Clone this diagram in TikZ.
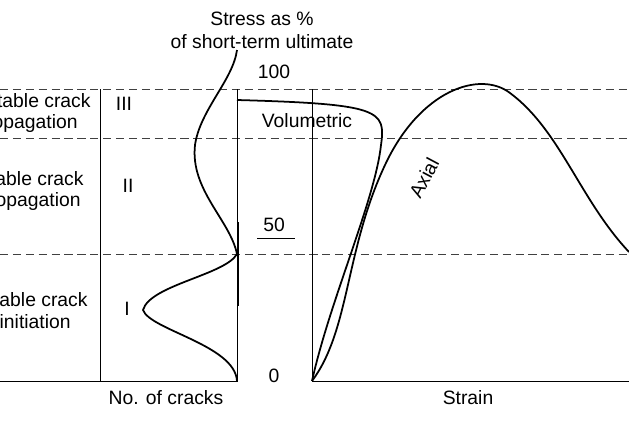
\documentclass[tikz,border=0pt]{standalone}
\usepackage{fontspec}
\setmainfont{Liberation Sans}
\begin{document}
\begin{tikzpicture}[x=0.03cm, y=-0.03cm,
		every node/.style={font=\fontsize{16.5}{18}\selectfont, inner sep=1pt},
		axisline/.style={line width=0.7pt},
		level/.style={dashed, dash pattern=on 7pt off 4pt, line width=0.8pt, black!75},
		curve/.style={line width=1.5pt, line join=round},
		]
		\useasboundingbox (0,0) rectangle (629,420);
		\clip (0,0) rectangle (629,420);
		% stress levels
		\draw[level] (0,89) -- (629,89);
		\draw[level] (0,138) -- (629,138);
		\draw[level] (0,254) -- (629,254);
		% axes
		\coordinate (o) at (312,381);
		\draw[axisline] (100,89) -- (100,381) -- (0,381);
		\draw[axisline] (100,381) -- (237,381) -- (237,89);
		\draw[axisline] (312,89) -- (o) -- (629,381);
		% crack count curve
		\draw[curve] (237,50) .. controls (233,80) and (200,110) .. (195,145)
			.. controls (190,190) and (230,220) .. (237,254)
			.. controls (225,275) and (150,285) .. (143,310)
			.. controls (150,330) and (235,345) .. (237,381);
		\draw[line width=1.1pt] (238.5,222) -- (238.5,306);
		% volumetric strain
		\draw[curve] (o) .. controls (330,300) and (375,200) .. (381,145)
			.. controls (386,110) and (380,104) .. (237,100);
		% axial strain
		\draw[curve] (o) .. controls (350,330) and (345,250) .. (385,165)
			.. controls (420,90) and (480,70) .. (510,93)
			.. controls (560,130) and (580,200) .. (629,252);
		% stage labels
		\node[anchor=east] (s3a) at (92,101) {Unstable crack};
		\node[anchor=east] (s3b) at (79,123) {propagation};
		\node[anchor=east] (s2a) at (85,179) {Stable crack};
		\node[anchor=east] (s2b) at (82,201) {propagation};
		\node[anchor=east] (s1a) at (89,300) {Stable crack};
		\node[anchor=east] (s1b) at (72,322) {initiation};
		\node (III) at (124,104) {III};
		\node (II) at (128,186) {II};
		\node (I) at (127,309) {I};
		% axis labels
		\node (t1) at (262,19) {Stress as \%};
		\node (t2) at (262,42) {of short-term ultimate};
		\node (l100) at (274,72) {100};
		\node (l50) at (274,225) {50};
		\draw[axisline] (257,238) -- (295,238);
		\node (l0) at (274,376) {0};
		\node (vol) at (307,121) {Volumetric};
		\node[rotate=62] (ax) at (424,178) {Axial};
		\node (nc) at (166,398) {No. of cracks};
		\node (st) at (468,398) {Strain};
\end{tikzpicture}
\end{document}
